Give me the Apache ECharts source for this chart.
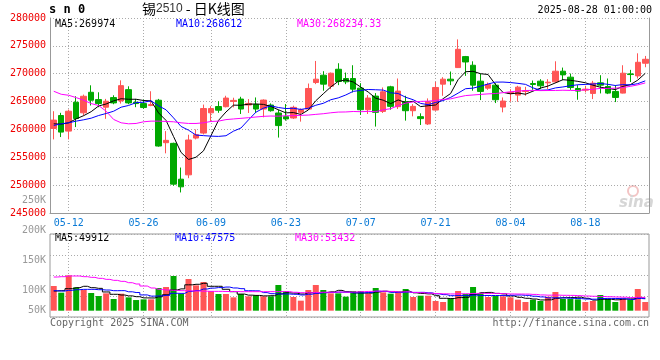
<!DOCTYPE html>
<html><head><meta charset="utf-8">
<script src="https://cdn.jsdelivr.net/npm/echarts@6/dist/echarts.min.js"></script>
<style>html,body{margin:0;padding:0;background:#fff}#c{width:660px;height:360px}</style>
</head><body><div id="c"></div>
<script>
const dates = ["05-08","05-09","05-12","05-13","05-14","05-15","05-16","05-19","05-20","05-21","05-22","05-23","05-26","05-27","05-28","05-29","05-30",
"06-03","06-04","06-05","06-06","06-09","06-10","06-11","06-12","06-13","06-16","06-17","06-18","06-19","06-20","06-23","06-24","06-25","06-26","06-27","06-30",
"07-01","07-02","07-03","07-04","07-07","07-08","07-09","07-10","07-11","07-14","07-15","07-16","07-17","07-18","07-21","07-22","07-23","07-24","07-25","07-28","07-29","07-30","07-31",
"08-01","08-04","08-05","08-06","08-07","08-08","08-11","08-12","08-13","08-14","08-15","08-18","08-19","08-20","08-21","08-22","08-25","08-26","08-27","08-28"];
const tickLabels = ["05-12","05-26","06-09","06-23","07-07","07-21","08-04","08-18"];

const opens = [260180,262500,259700,264880,262980,266670,265360,263990,265710,265120,
267140,264880,264640,264290,265240,257620,257500,251070,251850,258450,
259350,262980,264110,264080,265030,265450,264380,264490,263660,264380,
262950,262290,262050,263070,263660,268420,269730,267770,270800,269140,
269140,267410,263540,265980,263240,267650,264080,264970,263360,262290,
260980,263480,268130,269020,271100,273070,271520,268660,267410,267950,
264020,266460,266160,266820,268240,268660,268360,268540,270450,269380,
267350,267050,266460,268360,267710,266820,266520,269970,269610,271880];
const closes = [261670,259520,263270,261960,265950,265240,264640,265060,264760,267860,
264760,264640,263930,264460,257020,258040,250180,249700,258100,259050,
263750,263750,263450,265630,265210,263660,264670,263660,265270,263360,
260690,261880,263960,263540,267350,269020,268130,270090,268600,268540,
267230,263540,265630,263070,266760,264140,266880,263360,264140,261940,
264970,267530,269020,268720,274380,272110,267950,266820,268070,265330,
265090,266640,267590,266940,268070,267830,268480,270450,269790,267530,
266880,267230,268300,267950,266520,265740,270090,269850,272050,272590];
const highs = [263270,262980,263570,265950,266250,267920,266670,265480,266130,268810,
267740,265480,265360,266850,265480,259700,257620,253160,259050,260000,
264460,264170,265060,266040,265690,265860,265450,265740,265390,264670,
263540,264550,264260,263780,268240,272290,270450,270210,271880,270210,
271520,268300,266160,266520,267530,267830,269140,266040,264550,262890,
265570,268540,269380,270390,276160,273190,272230,270030,268420,268300,
265740,267230,267830,267650,268780,269020,269020,272230,271100,270030,
267950,267830,268720,269730,269140,267950,271520,270690,273660,273190];
const lows = [258210,258630,258210,260420,262500,264290,263990,261900,264520,264640,
264520,263990,263690,264170,256900,255710,249880,248690,251250,258210,
259100,261370,262980,263960,263960,262770,262950,262950,262170,263190,
258540,261580,261880,261400,263540,268130,266940,267230,267950,268130,
266640,262590,262770,260510,262950,263540,263660,261580,262350,260800,
260800,263360,266040,267950,271040,269610,266940,265270,267110,264730,
263070,264970,264970,266040,267110,267230,267230,268300,268840,267110,
265330,266640,265450,266460,266340,264910,266460,268510,269140,271160];
const volumes = [99300,72500,142300,93900,83200,71100,59000,69800,47000,68400,
53700,42900,45600,45600,91300,95300,139600,67100,127500,102000,
115400,79200,67100,67100,53700,67100,57700,61700,57700,57700,
103300,79200,55000,40300,83200,103300,83200,69800,69800,56400,
79200,79200,68400,91300,73800,68400,75200,87200,55000,60400,
60400,38900,34900,49700,79200,67100,95300,71100,55000,59000,
57700,53700,44300,34900,44300,38900,56400,75200,47000,47000,
45600,34900,38900,63100,47000,34900,48300,44300,87200,34900];

// moving-average values before enough history is in view
const ma5Head = [261010,260950,261190,261900];
const ma10Head = [260710,261010,261190,261490,261730,262020,262500,262860,263270];
const ma30Head = [266850,266310,266130,265710,265240,264640,264290,263270,261790,261190,261010,261070,261370,261490,261490,261430,261370,261190,261070,261070,261190,261430,261490,261760,261880,261990,262110,262230,262350];
const volMa5Head = [79200,80500,88600,92600];
const volMa10Head = [80500,79200,81900,84500,85900,85900,84500,83200,80500];
const volMa30Head = [135500,136900,139600,139600,136900,134200,130200,126100,122100,118100,112700,107400,99300,91300,85900,83200,81900,80500,79900,79200,78500,77800,77800,77200,77200,76500,76500,76500,76500];

const priceMaLabels = ["MA5:269974","MA10:268612","MA30:268234.33"];
const volMaLabels = ["MA5:49912","MA10:47575","MA30:53432"];
const volTickLabels = ["200K","150K","100K","50K"];

function movingAvg(values, n, head) {
  return values.map((v, i) => {
    if (i < head.length) return head[i];
    let s = 0;
    for (let k = i - n + 1; k <= i; k++) s += values[k];
    return Math.round(s / n);
  });
}

const RED = '#ff5555', GREEN = '#00a800';
const MONO = 'DejaVu Sans Mono';
const chart = echarts.init(document.getElementById('c'), null, {renderer:'canvas'});
const candleData = dates.map((d, i) => [opens[i], closes[i], lows[i], highs[i]]);
const volData = volumes.map((v, i) => ({value: v, itemStyle: {color: closes[i] >= opens[i] ? RED : GREEN}}));
const isTick = (i, v) => tickLabels.indexOf(v !== undefined ? v : dates[i]) >= 0;
const dotted = {color:'#aaaaaa', type:[1,2], width:1};

const lineS = (name, data, color, xi, yi, step) => ({
  name, type:'line', data, xAxisIndex:xi, yAxisIndex:yi, showSymbol:false, symbol:'none',
  step: step || false, lineStyle:{color, width:1}, itemStyle:{color}, z:5, silent:true
});

const option = {
  animation:false,
  backgroundColor:'#fff',
  textStyle:{fontFamily:MONO},
  grid:[
    {left:50, right:11, top:18, height:195},
    {left:50, right:11, top:234, height:83, show:true, borderColor:'#999', borderWidth:1, backgroundColor:'transparent'}
  ],
  xAxis:[
    {type:'category', gridIndex:0, data:dates, boundaryGap:true,
     axisLine:{show:true, lineStyle:{color:'#999'}}, axisTick:{show:false},
     axisLabel:{interval:(i, v) => isTick(i, v), color:'#0a7ad6', fontSize:10, margin:5, fontFamily:MONO},
     splitLine:{show:true, interval:(i, v) => isTick(i, v), alignWithLabel:true, lineStyle:dotted}},
    {type:'category', gridIndex:1, data:dates, boundaryGap:true,
     axisLine:{show:false}, axisTick:{show:false}, axisLabel:{show:false},
     splitLine:{show:true, interval:(i, v) => isTick(i, v), alignWithLabel:true, lineStyle:dotted}}
  ],
  yAxis:[
    {type:'value', gridIndex:0, min:245000, max:280000, interval:5000, position:'left',
     axisLine:{show:true, lineStyle:{color:'#999'}}, axisTick:{show:false},
     axisLabel:{color:'#ee0000', fontSize:10, margin:4, fontFamily:MONO, padding:[0,0,4,0], formatter:(v) => String(v)},
     splitLine:{show:true, lineStyle:dotted}},
    {type:'value', gridIndex:0, min:245000, max:280000, interval:5000, position:'right',
     axisLine:{show:true, lineStyle:{color:'#999'}}, axisTick:{show:false}, axisLabel:{show:false}, splitLine:{show:false}},
    {type:'value', gridIndex:1, min:-25400, max:308700, position:'left',
     axisLine:{show:false}, axisTick:{show:false}, axisLabel:{show:false}, splitLine:{show:false}},
    {type:'value', gridIndex:1, min:0, max:4, interval:1, position:'right',
     axisLine:{show:false}, axisTick:{show:false}, axisLabel:{show:false}, splitLine:{show:true, lineStyle:dotted}}
  ],
  series:[
    {type:'candlestick', name:'K', xAxisIndex:0, yAxisIndex:0, data:candleData, barWidth:6,
     itemStyle:{color:RED, color0:GREEN, borderColor:RED, borderColor0:GREEN, borderWidth:1}, z:3},
    lineS('MA5', movingAvg(closes, 5, ma5Head), '#000000', 0, 0),
    lineS('MA10', movingAvg(closes, 10, ma10Head), '#0000ff', 0, 0),
    lineS('MA30', movingAvg(closes, 30, ma30Head), '#ff00ff', 0, 0),
    {type:'bar', name:'VOL', xAxisIndex:1, yAxisIndex:2, data:volData, barWidth:6, z:3},
    lineS('VMA5', movingAvg(volumes, 5, volMa5Head), '#000000', 1, 2, 'middle'),
    lineS('VMA10', movingAvg(volumes, 10, volMa10Head), '#0000ff', 1, 2, 'middle'),
    lineS('VMA30', movingAvg(volumes, 30, volMa30Head), '#ff00ff', 1, 2, 'middle')
  ],
  graphic:[
    {type:'text', left:49, top:4, style:{text:'s n 0', font:'bold 12px "DejaVu Sans Mono"', fill:'#000'}},
    {type:'text', left:142, top:2, style:{
      text:'{a|锡}{b|2510}{a| - 日K线图}',
      rich:{a:{font:'14px "Noto Sans CJK SC"', fill:'#000'}, b:{font:'12px "Liberation Sans"', fill:'#333'}}}},
    {type:'text', right:8, top:5, style:{text:'2025-08-28 01:00:00', font:'10px "DejaVu Sans Mono"', fill:'#000'}},
    {type:'text', left:55, top:19, style:{text:priceMaLabels[0], font:'10px "DejaVu Sans Mono"', fill:'#000'}},
    {type:'text', left:176, top:19, style:{text:priceMaLabels[1], font:'10px "DejaVu Sans Mono"', fill:'#0000ff'}},
    {type:'text', left:297, top:19, style:{text:priceMaLabels[2], font:'10px "DejaVu Sans Mono"', fill:'#ff00ff'}},
    {type:'text', left:55, top:233, style:{text:volMaLabels[0], font:'10px "DejaVu Sans Mono"', fill:'#000'}},
    {type:'text', left:175, top:233, style:{text:volMaLabels[1], font:'10px "DejaVu Sans Mono"', fill:'#0000ff'}},
    {type:'text', left:295, top:233, style:{text:volMaLabels[2], font:'10px "DejaVu Sans Mono"', fill:'#ff00ff'}},
    {type:'text', x:46, y:230, style:{text:volTickLabels[0], font:'10px "DejaVu Sans Mono"', fill:'#999', align:'right', verticalAlign:'middle'}},
    {type:'text', x:46, y:260.7, style:{text:volTickLabels[1], font:'10px "DejaVu Sans Mono"', fill:'#999', align:'right', verticalAlign:'middle'}},
    {type:'text', x:46, y:290.7, style:{text:volTickLabels[2], font:'10px "DejaVu Sans Mono"', fill:'#999', align:'right', verticalAlign:'middle'}},
    {type:'text', x:46, y:310.7, style:{text:volTickLabels[3], font:'10px "DejaVu Sans Mono"', fill:'#999', align:'right', verticalAlign:'middle'}},
    {type:'text', x:46, y:200.5, style:{text:'250K', font:'10px "DejaVu Sans Mono"', fill:'#999', align:'right', verticalAlign:'middle'}},
    {type:'text', left:50, top:318, style:{text:'Copyright 2025 SINA.COM', font:'10px "DejaVu Sans Mono"', fill:'#666'}},
    {type:'text', right:11, top:318, style:{text:'http://finance.sina.com.cn', font:'10px "DejaVu Sans Mono"', fill:'#666'}},
    {type:'circle', shape:{cx:633, cy:191, r:5}, style:{fill:'none', stroke:'#f3c4c4', lineWidth:2}, z:0},
    {type:'text', x:619, y:196, style:{text:'sina', font:'italic bold 15px "DejaVu Sans"', fill:'#d6d6d6'}, z:0}
  ]
};
chart.setOption(option);
</script></body></html>
